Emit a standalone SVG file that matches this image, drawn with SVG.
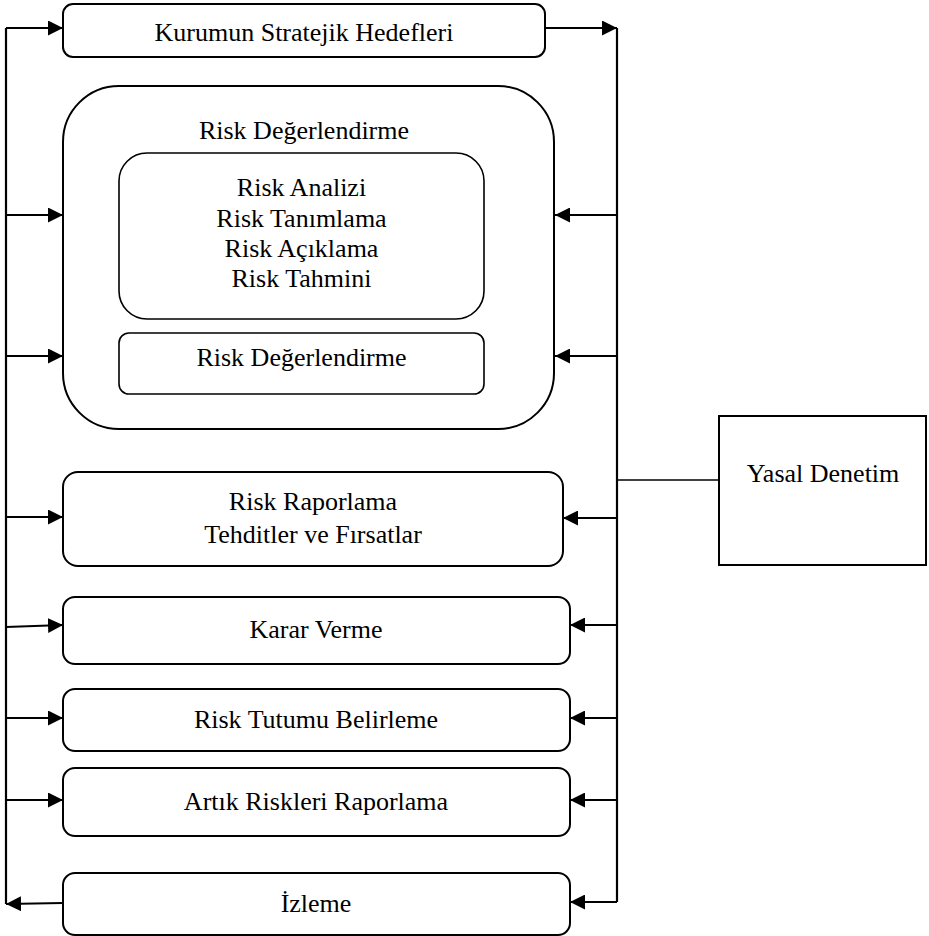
<svg xmlns="http://www.w3.org/2000/svg" width="929" height="936" viewBox="0 0 929 936">
<defs>
<marker id="ah" viewBox="0 0 15 15" refX="15" refY="7.5" markerWidth="15" markerHeight="15" markerUnits="userSpaceOnUse" orient="auto">
<path d="M0,0 L15,7.5 L0,15 Z" fill="#000"/>
</marker>
<style>
.box{fill:#fff;stroke:#000;stroke-width:2}
.thin{fill:#fff;stroke:#000;stroke-width:1.6}
.t{font-family:"Liberation Serif","Times New Roman",serif;font-size:26px;fill:#000;text-anchor:middle}
.ln{stroke:#000;stroke-width:2.2;fill:none}
.ar{stroke:#000;stroke-width:2.2;fill:none;marker-end:url(#ah)}
</style>
</defs>
<rect width="929" height="936" fill="#fff"/>
<g id="connectors">
<polyline class="ln" points="6,28 6,904"/>
<polyline class="ln" points="617,28 617,902"/>
<line class="ar" x1="6" y1="28" x2="63" y2="28"/>
<line class="ar" x1="545" y1="28" x2="617" y2="28"/>
<line class="ar" x1="6" y1="215" x2="63" y2="215"/>
<line class="ar" x1="6" y1="356" x2="63" y2="356"/>
<line class="ar" x1="617" y1="215" x2="555" y2="215"/>
<line class="ar" x1="617" y1="356" x2="555" y2="356"/>
<line class="ar" x1="6" y1="517" x2="63" y2="517"/>
<line class="ar" x1="617" y1="518" x2="563" y2="518"/>
<line class="ar" x1="6" y1="627" x2="63" y2="625"/>
<line class="ar" x1="617" y1="625" x2="570" y2="625"/>
<line class="ar" x1="6" y1="718" x2="63" y2="718"/>
<line class="ar" x1="617" y1="718" x2="570" y2="718"/>
<line class="ar" x1="6" y1="800" x2="63" y2="800"/>
<line class="ar" x1="617" y1="800" x2="570" y2="800"/>
<line class="ar" x1="63" y1="903" x2="6" y2="904"/>
<line class="ar" x1="617" y1="902" x2="570" y2="902"/>
<line x1="617" y1="480" x2="719" y2="480" stroke="#000" stroke-width="1.6"/>
</g>
<g id="hedefler">
<rect class="box" x="63" y="4" width="482" height="53" rx="10"/>
<text class="t" x="304" y="41">Kurumun Stratejik Hedefleri</text>
</g>
<g id="risk-degerlendirme-grup">
<rect class="box" x="63" y="86" width="491" height="343" rx="56"/>
<text class="t" x="304" y="139">Risk Değerlendirme</text>
</g>
<g id="risk-analizi">
<rect class="thin" x="119" y="153" width="365" height="166" rx="28"/>
<text class="t" x="301.5" y="196">Risk Analizi</text>
<text class="t" x="301.5" y="227">Risk Tanımlama</text>
<text class="t" x="301.5" y="257">Risk Açıklama</text>
<text class="t" x="301.5" y="287">Risk Tahmini</text>
</g>
<g id="risk-degerlendirme">
<rect class="thin" x="119" y="333" width="365" height="61" rx="10"/>
<text class="t" x="301.5" y="366">Risk Değerlendirme</text>
</g>
<g id="risk-raporlama">
<rect class="box" x="63" y="472" width="500" height="94" rx="15"/>
<text class="t" x="313" y="510">Risk Raporlama</text>
<text class="t" x="313" y="543">Tehditler ve Fırsatlar</text>
</g>
<g id="karar-verme">
<rect class="box" x="63" y="597" width="507" height="67" rx="12"/>
<text class="t" x="316" y="638">Karar Verme</text>
</g>
<g id="risk-tutumu">
<rect class="box" x="63" y="689" width="507" height="62" rx="12"/>
<text class="t" x="316" y="728">Risk Tutumu Belirleme</text>
</g>
<g id="artik-riskler">
<rect class="box" x="63" y="768" width="507" height="68" rx="12"/>
<text class="t" x="316" y="810">Artık Riskleri Raporlama</text>
</g>
<g id="izleme">
<rect class="box" x="63" y="873" width="507" height="62" rx="12"/>
<text class="t" x="316" y="912">İzleme</text>
</g>
<g id="yasal-denetim">
<rect class="box" x="719" y="416" width="207" height="149"/>
<text class="t" x="823" y="482">Yasal Denetim</text>
</g>
</svg>
